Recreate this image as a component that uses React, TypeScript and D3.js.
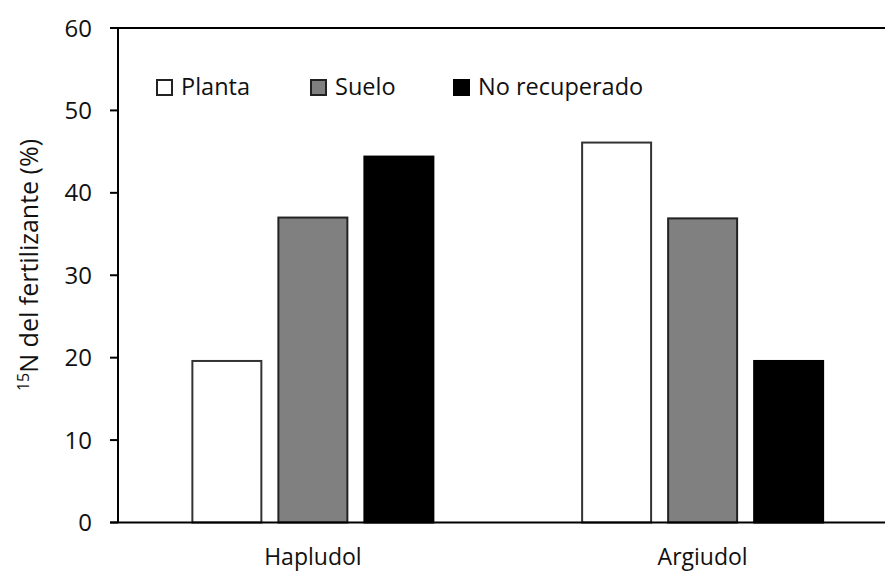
import React from "react";
import * as d3 from "d3";

const categories = ["Hapludol", "Argiudol"];
const seriesNames = ["Planta", "Suelo", "No recuperado"];
const planta = [19.6, 46.1];
const suelo = [37.0, 36.9];
const noRecuperado = [44.4, 19.6];
const yTicks = [0, 10, 20, 30, 40, 50, 60];
const fills = ["#ffffff", "#808080", "#000000"];
const strokes = ["#333333", "#222222", "#000000"];

const W = 885;
const H = 572;
const FONT = "'Open Sans', sans-serif";

export default function App() {
  const seriesValues = [planta, suelo, noRecuperado];
  const left = 118;
  const top = 28;
  const bottom = 522.5;
  const y = d3.scaleLinear().domain([0, 60]).range([bottom, top]);
  const x0 = d3.scaleBand().domain(categories).range([left, 897.5]).padding(0);
  const groupW = 241;
  const x1 = d3.scaleBand().domain(seriesNames).range([0, groupW]).paddingInner(0.198).paddingOuter(0);
  const legendX = [157, 311, 454];

  return (
    <svg width={W} height={H} style={{ position: "absolute", left: 0, top: 0, background: "#fff" }} fontFamily={FONT}>
      <rect x={0} y={0} width={W} height={H} fill="#fff" />
      {/* bars */}
      {categories.map((c, ci) => {
        const gx = (x0(c) as number) + (x0.bandwidth() - groupW) / 2;
        return seriesNames.map((s, si) => {
          const v = seriesValues[si][ci];
          return (
            <rect
              key={c + s}
              x={gx + (x1(s) as number)}
              y={y(v)}
              width={x1.bandwidth()}
              height={y(0) - y(v)}
              fill={fills[si]}
              stroke={strokes[si]}
              strokeWidth={2}
            />
          );
        });
      })}
      {/* top line */}
      <line x1={110} x2={W} y1={y(60)} y2={y(60)} stroke="#000" strokeWidth={2} />
      {/* x axis */}
      <line x1={110} x2={W} y1={y(0)} y2={y(0)} stroke="#000" strokeWidth={2} />
      {/* y axis */}
      <line x1={left} x2={left} y1={y(60)} y2={y(0)} stroke="#000" strokeWidth={2} />
      {yTicks.map((t) => (
        <g key={t}>
          <line x1={110} x2={left} y1={y(t)} y2={y(t)} stroke="#000" strokeWidth={2} />
          <text x={92} y={y(t)} dy="0.36em" textAnchor="end" fontSize={24} fill="#111">
            {t}
          </text>
        </g>
      ))}
      {/* x labels */}
      {categories.map((c) => (
        <text
          key={c}
          x={(x0(c) as number) + x0.bandwidth() / 2}
          y={565}
          textAnchor="middle"
          fontSize={23}
          fill="#111"
        >
          {c}
        </text>
      ))}
      {/* y title */}
      <text transform={`translate(38, 265) rotate(-90)`} textAnchor="middle" fontSize={25} fill="#111">
        <tspan fontSize={16} dy={-9}>15</tspan>
        <tspan dy={9}>N del fertilizante (%)</tspan>
      </text>
      {/* legend */}
      {seriesNames.map((s, si) => (
        <g key={s}>
          <rect x={legendX[si]} y={80} width={15} height={15} fill={fills[si]} stroke={strokes[si] === "#000000" ? "#000" : "#222"} strokeWidth={2} />
          <text x={legendX[si] + 24} y={95} fontSize={23.5} fill="#111">
            {s}
          </text>
        </g>
      ))}
    </svg>
  );
}
